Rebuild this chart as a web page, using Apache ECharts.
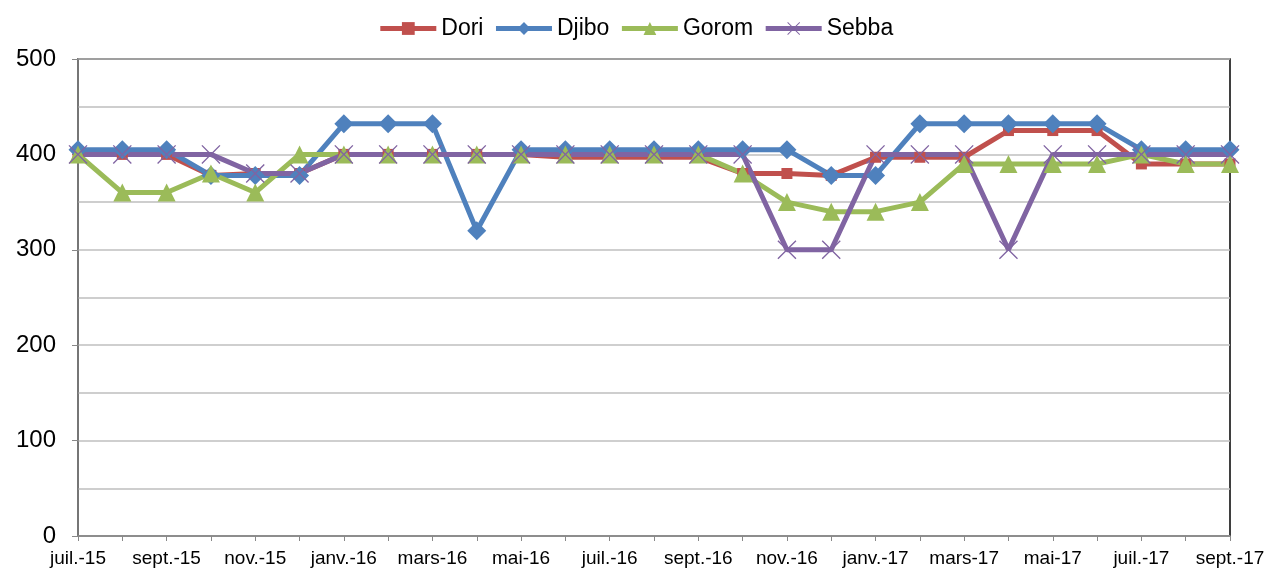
<!DOCTYPE html>
<html>
<head>
<meta charset="utf-8">
<script src="https://cdn.jsdelivr.net/npm/echarts@6/dist/echarts.min.js"></script>
<style>
  html, body { margin: 0; padding: 0; background: #fff; }
  #chart { width: 1271px; height: 572px; }
</style>
</head>
<body>
<div id="chart"></div>
<script>
// mois (juil.-15 .. sept.-17)
const months = ['juil.-15', 'août-15', 'sept.-15', 'oct.-15', 'nov.-15', 'déc.-15',
  'janv.-16', 'févr.-16', 'mars-16', 'avr.-16', 'mai-16', 'juin-16',
  'juil.-16', 'août-16', 'sept.-16', 'oct.-16', 'nov.-16', 'déc.-16',
  'janv.-17', 'févr.-17', 'mars-17', 'avr.-17', 'mai-17', 'juin-17',
  'juil.-17', 'août-17', 'sept.-17'];

const dori  = [400, 400, 400, 378, 380, 380, 400, 400, 400, 400, 400, 397, 397, 397, 397, 380, 380, 378, 397, 397, 397, 425, 425, 425, 390, 390, 390];
const djibo = [405, 405, 405, 378, 378, 378, 432, 432, 432, 320, 405, 405, 405, 405, 405, 405, 405, 378, 378, 432, 432, 432, 432, 432, 405, 405, 405];
const gorom = [400, 360, 360, 380, 360, 400, 400, 400, 400, 400, 400, 400, 400, 400, 400, 380, 350, 340, 340, 350, 390, 390, 390, 390, 400, 390, 390];
const sebba = [400, 400, 400, 400, 380, 380, 400, 400, 400, 400, 400, 400, 400, 400, 400, 400, 300, 300, 400, 400, 400, 300, 400, 400, 400, 400, 400];

// croix fine pour Sebba
const xMark = 'path://M0,1L1,0L10,9L19,0L20,1L11,10L20,19L19,20L10,11L1,20L0,19L9,10Z';

let chart = echarts.init(document.getElementById('chart'));

function line(name, data, color, symbol, size) {
  return {
    name: name,
    type: 'line',
    data: data,
    symbol: symbol,
    symbolSize: size,
    showSymbol: true,
    lineStyle: { color: color, width: 5 },
    itemStyle: { color: color },
    emphasis: { disabled: true },
    animation: false
  };
}

chart.setOption({
  textStyle: { fontFamily: 'Liberation Sans, Arial, sans-serif' },
  legend: {
    top: 12,
    left: 'center',
    itemWidth: 56,
    itemHeight: 16,
    itemGap: 10,
    lineStyle: { width: 5 },
    textStyle: { fontSize: 23, color: '#000' },
    data: ['Dori', 'Djibo', 'Gorom', 'Sebba']
  },
  grid: {
    left: 78, right: 41, top: 59, bottom: 36,
    show: true, borderColor: '#000', borderWidth: 1.5
  },
  xAxis: {
    type: 'category',
    data: months,
    boundaryGap: false,
    axisLine: { lineStyle: { color: '#888', width: 1.5 } },
    axisTick: { show: true, interval: 0, length: 5, lineStyle: { color: '#888' } },
    axisLabel: { interval: 1, color: '#000', fontSize: 19, margin: 13 },
    splitLine: { show: false }
  },
  yAxis: {
    type: 'value',
    min: 0, max: 500, interval: 100,
    axisLine: { show: true, lineStyle: { color: '#888', width: 1.5 } },
    axisTick: { show: true, length: 6, lineStyle: { color: '#888' } },
    axisLabel: { color: '#000', fontSize: 24, margin: 22 },
    splitLine: { lineStyle: { color: '#bfbfbf', width: 1.5 } },
    minorTick: { show: false, splitNumber: 2 },
    minorSplitLine: { show: true, lineStyle: { color: '#bfbfbf', width: 1.5 } }
  },
  series: [
    line('Dori', dori, '#C0504D', 'rect', 11),
    line('Djibo', djibo, '#4F81BD', 'diamond', 19),
    line('Gorom', gorom, '#9BBB59', 'triangle', 18),
    line('Sebba', sebba, '#8064A2', xMark, 19)
  ]
});
</script>
</body>
</html>
